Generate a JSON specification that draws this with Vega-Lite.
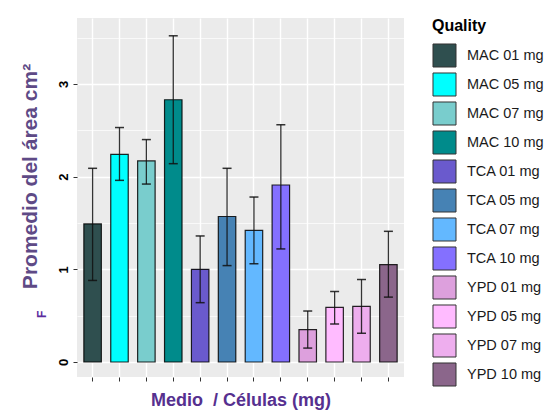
{
  "$schema": "https://vega.github.io/schema/vega-lite/v6.json",
  "width": 327,
  "height": 359,
  "padding": {"left": 18, "top": 18, "right": 5, "bottom": 5},
  "background": "white",
  "config": {
    "font": "Liberation Sans",
    "view": {"fill": "#EBEBEB", "stroke": null}
  },
  "title": {"text": "F", "orient": "left", "anchor": "start", "frame": "group", "color": "#5B2C9E", "fontSize": 12, "fontWeight": "bold", "offset": -30, "dx": 59},
  "data": {"values": [
    {"q": "MAC 01 mg", "mean": 1.49, "lo": 0.88, "hi": 2.09},
    {"q": "MAC 05 mg", "mean": 2.24, "lo": 1.96, "hi": 2.53},
    {"q": "MAC 07 mg", "mean": 2.17, "lo": 1.92, "hi": 2.40},
    {"q": "MAC 10 mg", "mean": 2.83, "lo": 2.14, "hi": 3.52},
    {"q": "TCA 01 mg", "mean": 1.00, "lo": 0.64, "hi": 1.36},
    {"q": "TCA 05 mg", "mean": 1.57, "lo": 1.04, "hi": 2.09},
    {"q": "TCA 07 mg", "mean": 1.42, "lo": 1.06, "hi": 1.78},
    {"q": "TCA 10 mg", "mean": 1.91, "lo": 1.22, "hi": 2.56},
    {"q": "YPD 01 mg", "mean": 0.35, "lo": 0.15, "hi": 0.55},
    {"q": "YPD 05 mg", "mean": 0.59, "lo": 0.41, "hi": 0.76},
    {"q": "YPD 07 mg", "mean": 0.60, "lo": 0.31, "hi": 0.89},
    {"q": "YPD 10 mg", "mean": 1.05, "lo": 0.70, "hi": 1.41}
  ]},
  "encoding": {
    "x": {
      "field": "q", "type": "nominal", "sort": null,
      "scale": {"paddingInner": 0.35, "paddingOuter": 0.255},
      "axis": {
        "title": "Medio\u00a0 / Células (mg)",
        "titleFontSize": 18, "titleFontWeight": "bold", "titleColor": "#56308F",
        "titlePadding": 10,
        "labels": false, "ticks": true, "tickSize": 4, "tickColor": "#333333", "tickWidth": 1,
        "domain": false, "grid": true, "gridColor": "white", "gridWidth": 1.4, "bandPosition": 0.5
      }
    }
  },
  "layer": [
    {
      "mark": {"type": "bar", "stroke": "black", "strokeWidth": 1.2, "strokeOpacity": 0.85},
      "encoding": {
        "y": {
          "field": "mean", "type": "quantitative",
          "scale": {"domain": [-0.162, 3.712], "nice": false, "zero": false},
          "axis": {
            "title": "Promedio del área cm²",
            "titleFontSize": 21, "titleFontWeight": "bold", "titleColor": "#5E4A86",
            "titlePadding": 17, "titleY": 158,
            "values": [0, 0.5, 1, 1.5, 2, 2.5, 3, 3.5],
            "labelExpr": "datum.value % 1 === 0 ? format(datum.value, 'd') : ''",
            "labelAngle": -90, "labelAlign": "center", "labelBaseline": "bottom",
            "labelFontSize": 13, "labelFontWeight": "bold", "labelColor": "black", "labelPadding": 3,
            "tickSize": 4, "tickColor": "#333333",
            "tickOpacity": {"condition": {"test": "datum.value % 1 === 0", "value": 1}, "value": 0},
            "domain": false, "grid": true, "gridColor": "white",
            "gridWidth": {"condition": {"test": "datum.value % 1 === 0", "value": 1.4}, "value": 0.7}
          }
        },
        "fill": {
          "field": "q", "type": "nominal", "sort": null,
          "scale": {"range": ["#2F4F4F", "#00FFFF", "#79CDCD", "#008B8B", "#6A5ACD", "#4682B4", "#63B8FF", "#8470FF", "#DDA0DD", "#FFBBFF", "#EEAEEE", "#8B668B"]},
          "legend": {
            "title": "Quality", "titleFontSize": 16, "titleFontWeight": "bold", "titleColor": "black", "titlePadding": 9,
            "symbolType": "square", "symbolSize": 530, "symbolStrokeColor": "#333333", "symbolStrokeWidth": 1,
            "labelFontSize": 14.5, "labelColor": "#1A1A1A", "rowPadding": 0, "labelOffset": 10,
            "offset": 28
          }
        }
      }
    },
    {
      "mark": {"type": "rule", "color": "#111111", "strokeWidth": 1.3, "opacity": 0.85},
      "encoding": {"y": {"field": "lo", "type": "quantitative"}, "y2": {"field": "hi"}}
    },
    {
      "mark": {"type": "tick", "orient": "horizontal", "size": 9, "thickness": 1.5, "color": "#111111", "opacity": 0.85},
      "encoding": {"y": {"field": "lo", "type": "quantitative"}}
    },
    {
      "mark": {"type": "tick", "orient": "horizontal", "size": 9, "thickness": 1.5, "color": "#111111", "opacity": 0.85},
      "encoding": {"y": {"field": "hi", "type": "quantitative"}}
    }
  ]
}
